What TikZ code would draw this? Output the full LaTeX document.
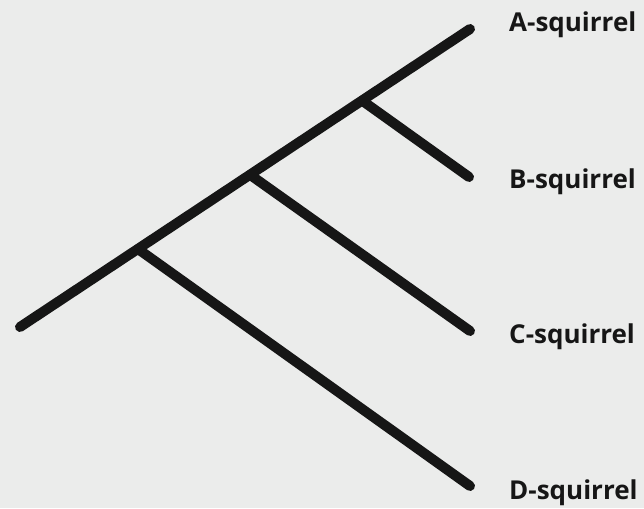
\documentclass[tikz,border=0pt]{standalone}
\usepackage{fontspec}
\setmainfont{Open Sans}
\usetikzlibrary{positioning, calc}
\usepackage{xcolor}
\definecolor{TreeBack}{HTML}{EBECEB}
\definecolor{TreeInk}{HTML}{161616}
\tikzset{
    % Branch style - thick with round ends
    branch/.style={
        line width=10pt,
        line cap=round,
        draw=TreeInk
    },
    % Leaf labels
    leaf/.style={
        anchor=base west,
        inner sep=0pt,
        text=TreeInk,
        font=\fontsize{26}{30}\selectfont\bfseries
    }
}

\begin{document}
\begin{tikzpicture}[x=1pt, y=-1pt]
    % Background
    \fill[TreeBack] (0,0) rectangle (644,508);
    \useasboundingbox (0,0) rectangle (644,508);

    % Root and tips
    \coordinate (root) at (20,327);
    \coordinate (tipA) at (470,29);
    \coordinate (tipB) at (469,177);
    \coordinate (tipC) at (470,331);
    \coordinate (tipD) at (470,486);

    % Splits on the main line
    \coordinate (splitB) at ($(root)!0.760!(tipA)$);
    \coordinate (splitC) at ($(root)!0.511!(tipA)$);
    \coordinate (splitD) at ($(root)!0.262!(tipA)$);

    % Branches
    \draw[branch] (root) -- (tipA);
    \draw[branch] (splitB) -- (tipB);
    \draw[branch] (splitC) -- (tipC);
    \draw[branch] (splitD) -- (tipD);

    % Labels
    \node[leaf] (labA) at (509,32) {A-squirrel};
    \node[leaf] (labB) at (509,188) {B-squirrel};
    \node[leaf] (labC) at (509,343) {C-squirrel};
    \node[leaf] (labD) at (509,499) {D-squirrel};
\end{tikzpicture}
\end{document}
